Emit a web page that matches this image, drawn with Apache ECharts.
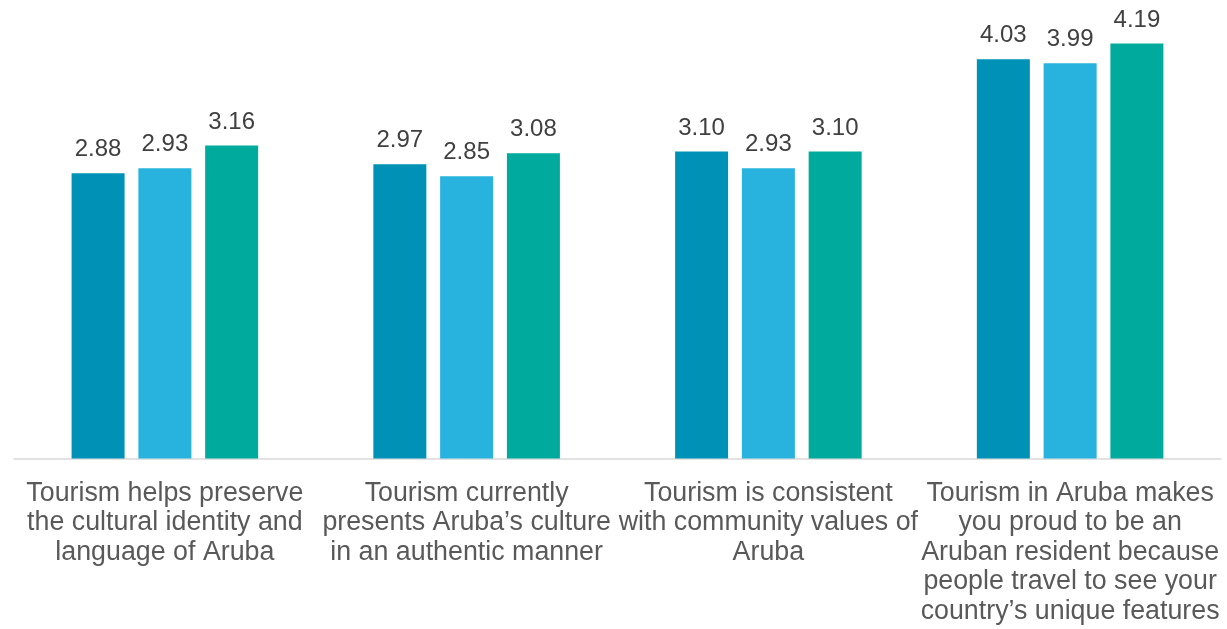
<!DOCTYPE html>
<html>
<head>
<meta charset="utf-8">
<script src="https://cdn.jsdelivr.net/npm/echarts@6/dist/echarts.min.js"></script>
<style>
  html, body { margin: 0; padding: 0; background: #ffffff; }
  #chart { width: 1227px; height: 629px; }
</style>
</head>
<body>
<div id="chart"></div>
<script>
// Statements (line breaks as printed under each group)
const categories = [
  'Tourism helps preserve\nthe cultural identity and\nlanguage of Aruba',
  'Tourism currently\npresents Aruba\u2019s culture\nin an authentic manner',
  'Tourism is consistent\nwith community values of\nAruba',
  'Tourism in Aruba makes\nyou proud to be an\nAruban resident because\npeople travel to see your\ncountry\u2019s unique features'
];

// Mean scores, three groups per statement
const seriesA = [2.88, 2.97, 3.10, 4.03];
const seriesB = [2.93, 2.85, 2.93, 3.99];
const seriesC = [3.16, 3.08, 3.10, 4.19];

const colors = ['#0092B6', '#27B3DD', '#00AA9C'];

const FONT = '"Liberation Sans", Arial, sans-serif';

function makeSeries(data, color) {
  return {
    type: 'bar',
    data: data,
    barWidth: 53,
    barGap: '26%',
    itemStyle: { color: color },
    label: {
      show: true,
      position: 'top',
      distance: 11.5,
      fontFamily: FONT,
      fontSize: 24,
      color: '#404040',
      formatter: p => p.value.toFixed(2)
    },
    emphasis: { disabled: true }
  };
}

const chart = echarts.init(document.getElementById('chart'));
chart.setOption({
  animation: false,
  grid: { left: 14, right: 6, top: 12.7, bottom: 170.5, containLabel: false },
  xAxis: {
    type: 'category',
    data: categories,
    axisLine: { show: true, lineStyle: { color: '#D9D9D9', width: 1.5 } },
    axisTick: { show: false },
    axisLabel: {
      interval: 0,
      margin: 20,
      fontFamily: FONT,
      fontSize: 26.8,
      lineHeight: 29.5,
      color: '#595959',
      align: 'center'
    }
  },
  yAxis: {
    type: 'value',
    min: 0,
    max: 4.5,
    show: false,
    splitLine: { show: false }
  },
  series: [
    makeSeries(seriesA, colors[0]),
    makeSeries(seriesB, colors[1]),
    makeSeries(seriesC, colors[2])
  ]
});
</script>
</body>
</html>
